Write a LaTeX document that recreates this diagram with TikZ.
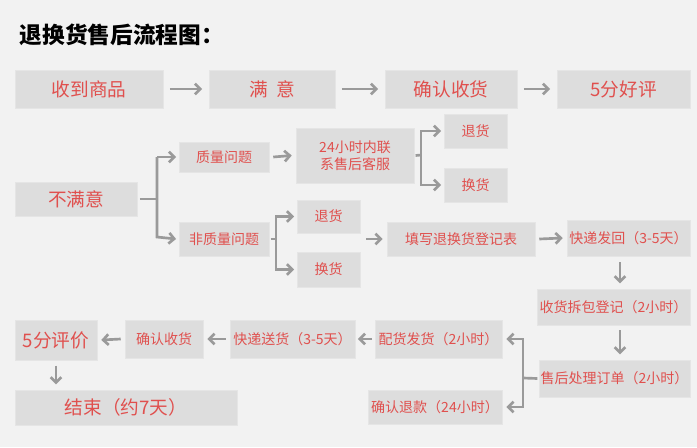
\documentclass[tikz,border=0pt]{standalone}
\usepackage{fontspec}
\setmainfont{Noto Sans CJK SC}
\usetikzlibrary{arrows.meta}
\definecolor{bg}{HTML}{F2F2F2}
\definecolor{bx}{HTML}{DDDDDD}
\definecolor{tx}{HTML}{E0504E}
\definecolor{ar}{HTML}{9A9A9A}
\tikzset{box/.style={fill=bx,draw=white!80!gray,line width=0.4pt,text=tx,inner sep=0pt,align=center},
  big/.style={font=\fontsize{14}{15}\selectfont},
  med/.style={font=\fontsize{10.5}{12.5}\selectfont},
  arr/.style={draw=ar,line width=2pt,-{Straight Barb[length=4pt,width=8pt]}},
  ln/.style={draw=ar,line width=2pt}}
\newcommand{\bxx}[7]{\node[box,#7,minimum width={(#4-#2)*0.75pt},minimum height={(#5-#3)*0.75pt}] (#1) at ({(#2+#4)/2},{(#3+#5)/2}) {#6};}
\begin{document}
\begin{tikzpicture}[x=0.75pt,y=-0.75pt]
\fill[bg] (0,0) rectangle (697,447);
\useasboundingbox (0,0) rectangle (697,447);
\node[anchor=west,font=\fontsize{17}{19}\selectfont\bfseries] (title) at (15,35) {退换货售后流程图：};
\bxx{a1}{15}{70}{163}{108}{收到商品}{big}
\bxx{a2}{209}{70}{335}{108}{满\ \ 意}{big}
\bxx{a3}{385}{70}{517}{108}{确认收货}{big}
\bxx{a4}{557}{70}{690}{108}{5分好评}{big}
\bxx{bm}{15}{182}{137}{216}{不满意}{big}
\bxx{zl}{179}{142}{269}{172}{质量问题}{med}
\bxx{kf}{296}{128}{414}{183}{24小时内联\\系售后客服}{med}
\bxx{t1}{444}{114}{507}{148}{退货}{med}
\bxx{h1}{444}{168}{507}{202}{换货}{med}
\bxx{fz}{179}{222}{269}{256}{非质量问题}{med}
\bxx{t2}{297}{200}{360}{233}{退货}{med}
\bxx{h2}{297}{252}{360}{287}{换货}{med}
\bxx{tx}{387}{222}{535}{256}{填写退换货登记表}{med}
\bxx{kd}{567}{220}{690}{256}{快递发回（3-5天）}{med}
\bxx{cb}{537}{289}{690}{325}{收货拆包登记（2小时）}{med}
\bxx{sh}{539}{360}{690}{397}{售后处理订单（2小时）}{med}
\bxx{ph}{375}{320}{502}{358}{配货发货（2小时）}{med}
\bxx{ks}{230}{320}{355}{358}{快递送货（3-5天）}{med}
\bxx{qr}{125}{320}{203}{358}{确认收货}{med}
\bxx{pj}{15}{320}{97}{360}{5分评价}{big}
\bxx{tk}{368}{390}{502}{424}{确认退款（24小时）}{med}
\bxx{js}{15}{390}{237}{425}{结束（约7天）}{big}
\draw[arr] ([xshift=5pt]a1.east) -- ([xshift=-5pt]a2.west);
\draw[arr] ([xshift=5pt]a2.east) -- ([xshift=-5pt]a3.west);
\draw[arr] ([xshift=5pt]a3.east) -- ([xshift=-5pt]a4.west);
\coordinate (f1) at (157,199);
\draw[ln] ([xshift=2pt]bm.east) -- (f1);
\draw[arr] (157,157) |- ([xshift=-2pt]zl.west) ;
\draw[arr] (157,157) -- (157,237) -- ([xshift=-2pt]fz.west);
\draw[arr] ([xshift=3pt]zl.east) -- ([xshift=-3pt]kf.west);
\draw[ln] ([xshift=1pt]kf.east) -- (421,155);
\draw[arr] (421,155) |- ([xshift=-2pt]t1.west);
\draw[arr] (421,155) |- ([xshift=-2pt]h1.west);
\draw[ln] ([xshift=1pt]fz.east) -- (276,239);
\draw[arr] (276,239) |- ([xshift=-2pt]t2.west);
\draw[arr] (276,239) |- ([xshift=-2pt]h2.west);
\coordinate (fa) at (366,239);
\draw[arr] (fa) -- ([xshift=-3pt]tx.west);
\draw[arr] ([xshift=3pt]tx.east) -- ([xshift=-3pt]kd.west);
\coordinate (v1) at (620,262);
\coordinate (v2) at (620,330);
\draw[arr] (v1) -- ([yshift=4pt]v1|-cb.north);
\draw[arr] (v2) -- ([yshift=4pt]v2|-sh.north);
\draw[ln] ([xshift=-1pt]sh.west) -- (523,378);
\draw[arr] (523,378) |- ([xshift=3pt]ph.east);
\draw[arr] (523,378) |- ([xshift=3pt]tk.east);
\draw[arr] ([xshift=-2pt]ph.west) -- ([xshift=2pt]ks.east);
\draw[arr] ([xshift=-3pt]ks.west) -- ([xshift=3pt]qr.east);
\draw[arr] ([xshift=-3pt]qr.west) -- ([xshift=3pt]pj.east);
\draw[arr] ([yshift=-4pt]pj.south) -- ([yshift=4pt]pj.south|-js.north);
\end{tikzpicture}
\end{document}
